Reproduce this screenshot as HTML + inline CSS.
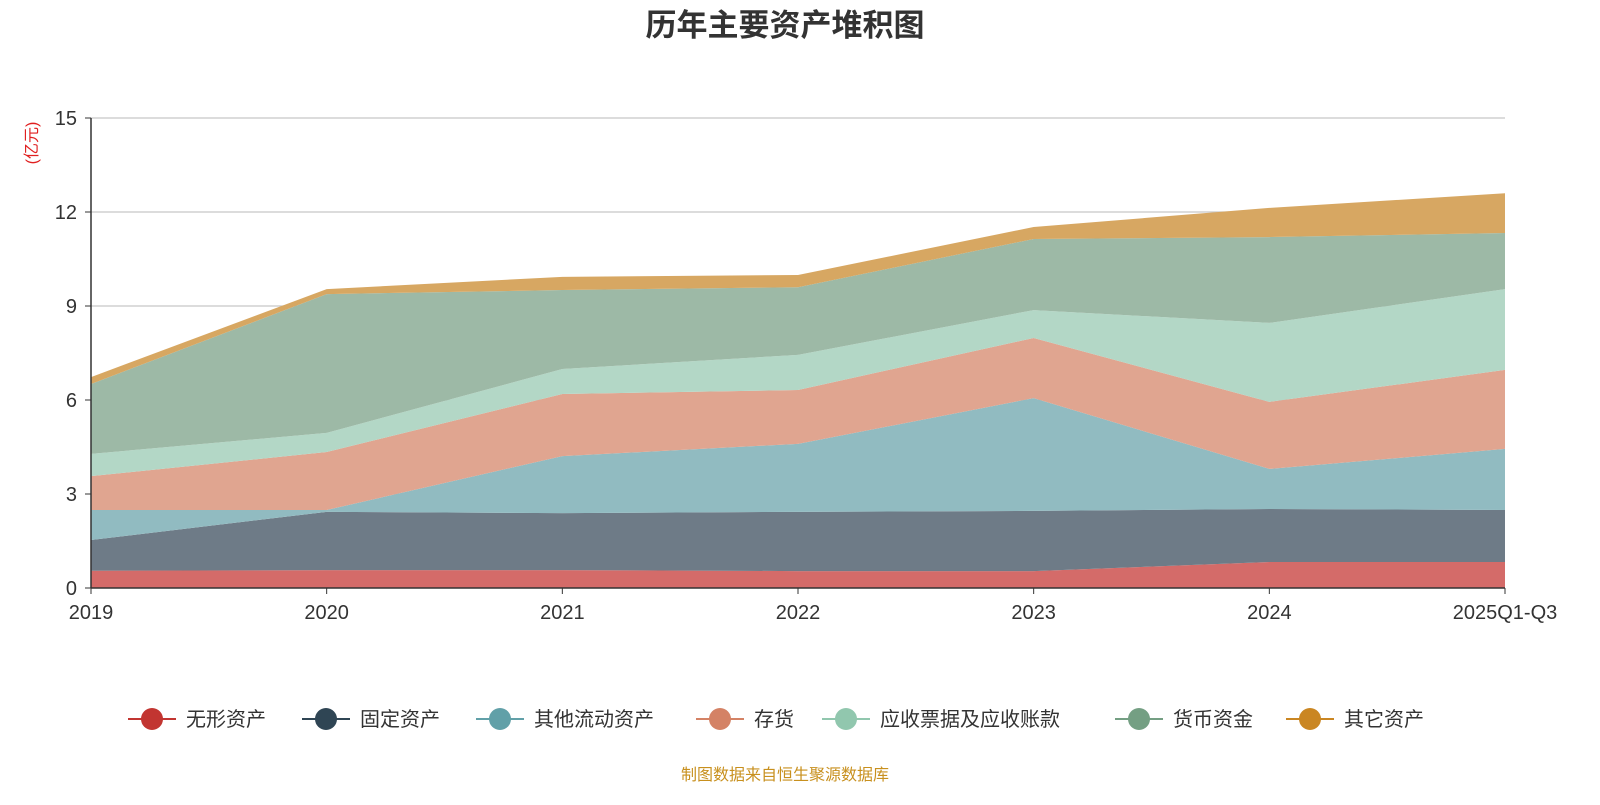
<!DOCTYPE html>
<html><head><meta charset="utf-8">
<style>
body{margin:0;background:#fff;font-family:"Liberation Sans","Noto Sans CJK SC",sans-serif;}
svg text{font-family:"Liberation Sans","Noto Sans CJK SC",sans-serif;}
</style></head>
<body>
<svg id="chart" width="1600" height="800" viewBox="0 0 1600 800">
<text x="785" y="36" text-anchor="middle" font-size="31" font-weight="bold" fill="#333">历年主要资产堆积图</text>
<text transform="translate(37,143) rotate(-90)" text-anchor="middle" font-size="16" fill="#e02020">(亿元)</text>
<g id="grid"></g><g id="areas"></g><g id="axes"></g><g id="legend"></g>
<text x="785" y="780" text-anchor="middle" font-size="16" fill="#c8901e">制图数据来自恒生聚源数据库</text>
</svg>
<script>
const categories=["2019","2020","2021","2022","2023","2024","2025Q1-Q3"];
const seriesNames=["无形资产","固定资产","其他流动资产","存货","应收票据及应收账款","货币资金","其它资产"];
const intangible=[0.55,0.57,0.57,0.54,0.54,0.83,0.83];
const fixedAssets=[0.98,1.86,1.82,1.89,1.92,1.69,1.66];
const otherCurrent=[0.96,0.06,1.82,2.17,3.60,1.28,1.95];
const inventory=[1.08,1.85,1.98,1.72,1.92,2.14,2.52];
const receivables=[0.71,0.61,0.80,1.12,0.89,2.52,2.58];
const cash=[2.23,4.43,2.52,2.16,2.27,2.74,1.79];
const otherAssets=[0.22,0.16,0.42,0.39,0.38,0.93,1.27];
const yTicks=[0,3,6,9,12,15];
const series=[intangible,fixedAssets,otherCurrent,inventory,receivables,cash,otherAssets];
const fills=["#d46b69","#6e7b87","#91bbc1","#e0a590","#b3d7c6","#9db9a6","#d7a762"];
const legendColors=["#c23531","#2f4554","#61a0a8","#d48265","#91c7ae","#749f83","#ca8622"];
const slugs=["intangible","fixed-assets","other-current","inventory","receivables","cash","other-assets"];
const NS="http://www.w3.org/2000/svg";
const X0=91,X1=1505,Y0=588,Y1=118;
const xs=i=>X0+(X1-X0)*i/(categories.length-1);
const ys=v=>Y0-(Y0-Y1)*v/15;
function mk(t,a,p){const e=document.createElementNS(NS,t);for(const k in a)e.setAttribute(k,a[k]);p.appendChild(e);return e;}
const grid=document.getElementById('grid'),axes=document.getElementById('axes'),areas=document.getElementById('areas'),legend=document.getElementById('legend');
yTicks.forEach(t=>{
 if(t>0){const l=mk('line',{x1:X0,x2:X1,y1:ys(t),y2:ys(t),stroke:'#c8c8c8','stroke-width':1.2},grid);
 
 }
 const tk=mk('line',{x1:X0-6,x2:X0,y1:ys(t),y2:ys(t),stroke:'#333'},axes);
 
 
 const tx=mk('text',{x:X0-14,y:ys(t)+7,'text-anchor':'end','font-size':20,fill:'#333'},axes);tx.textContent=t;
 
 
});
let base=categories.map(()=>0);
series.forEach((s,k)=>{
 const top=base.map((b,i)=>b+s[i]);
 let d='M'+categories.map((c,i)=>xs(i)+','+ys(top[i])).join('L');
 for(let i=categories.length-1;i>=0;i--)d+='L'+xs(i)+','+ys(base[i]);
 const p=mk('path',{d:d+'Z',fill:fills[k]},areas);
 
 
 base=top;
});
const ax=mk('line',{x1:X0,x2:X0,y1:Y1,y2:Y0,stroke:'#333','stroke-width':1.5},axes);


const xa=mk('line',{x1:X0,x2:X1,y1:Y0,y2:Y0,stroke:'#333','stroke-width':1.5},axes);


categories.forEach((c,i)=>{
 const tk=mk('line',{x1:xs(i),x2:xs(i),y1:Y0,y2:Y0+6,stroke:'#333'},axes);
 
 
 const tx=mk('text',{x:xs(i),y:Y0+31,'text-anchor':'middle','font-size':20,fill:'#333'},axes);tx.textContent=c;
 
 
});
const lx=[128,302,476,696,822,1115,1286];
seriesNames.forEach((n,k)=>{
 const g=mk('g',{},legend);
 
 
 mk('line',{x1:lx[k],x2:lx[k]+48,y1:719,y2:719,stroke:legendColors[k],'stroke-width':2},g);
 mk('circle',{cx:lx[k]+24,cy:719,r:11,fill:legendColors[k]},g);
 const t=mk('text',{x:lx[k]+58,y:726,'font-size':20,fill:'#333'},g);t.textContent=n;
});
</script>
</body></html>
